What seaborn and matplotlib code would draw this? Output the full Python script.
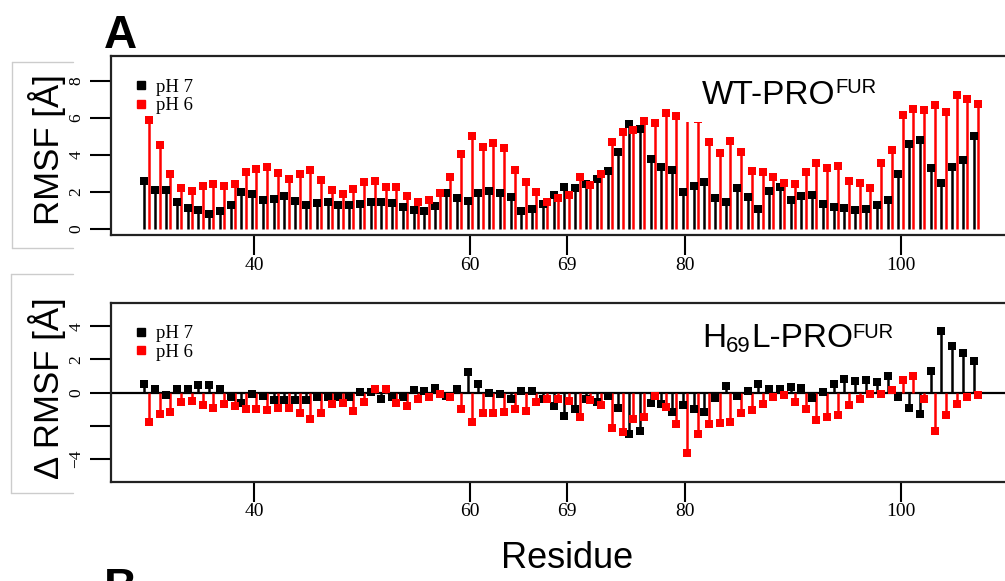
import numpy as np
import pandas as pd
import matplotlib
matplotlib.use("Agg")
import matplotlib.pyplot as plt
from matplotlib.lines import Line2D
from matplotlib.patches import Rectangle
import seaborn as sns

# ---------------- data ----------------
residues = list(range(30, 108))

wt_ph7 = [2.58, 2.09, 2.09, 1.43, 1.10, 0.99, 0.78, 0.96, 1.26, 2.00,
          1.86, 1.53, 1.60, 1.78, 1.48, 1.26, 1.37, 1.43, 1.28, 1.28,
          1.32, 1.43, 1.43, 1.40, 1.17, 1.03, 0.97, 1.23, 1.93, 1.66,
          1.50, 1.91, 2.04, 1.91, 1.71, 0.94, 1.05, 1.32, 1.80, 2.25,
          2.18, 2.43, 2.70, 3.14, 4.13, 5.66, 5.41, 3.75, 3.32, 3.17,
          1.98, 2.31, 2.51, 1.66, 1.46, 2.18, 1.71, 1.06, 2.02, 2.24,
          1.57, 1.78, 1.84, 1.32, 1.16, 1.12, 1.03, 1.05, 1.26, 1.53,
          2.94, 4.60, 4.81, 3.26, 2.47, 3.35, 3.70, 5.03]

wt_ph6 = [5.86, 4.51, 2.94, 2.22, 2.06, 2.31, 2.40, 2.31, 2.40, 3.08,
          3.21, 3.35, 3.03, 2.69, 2.96, 3.17, 2.63, 2.08, 1.86, 2.15,
          2.54, 2.56, 2.25, 2.24, 1.77, 1.46, 1.55, 1.95, 2.81, 4.02,
          5.01, 4.40, 4.65, 4.35, 3.19, 2.52, 1.98, 1.43, 1.68, 1.80,
          2.81, 2.38, 2.94, 4.69, 5.23, 5.34, 5.82, 5.71, 6.27, 6.08,
          6.10, 5.95, 4.67, 4.11, 4.74, 4.16, 3.12, 3.06, 2.78, 2.45,
          2.40, 3.06, 3.57, 3.30, 3.41, 2.59, 2.45, 2.20, 3.54, 4.24,
          6.13, 6.47, 6.43, 6.67, 6.29, 7.24, 7.01, 6.74]

h69l_ph7 = [0.54, 0.24, -0.16, 0.24, 0.24, 0.45, 0.45, 0.24, -0.24, -0.64,
            -0.08, -0.20, -0.44, -0.44, -0.44, -0.44, -0.28, -0.24, -0.24, -0.24,
            0.06, 0.02, -0.36, -0.24, -0.28, 0.14, 0.13, 0.26, -0.20, 0.22,
            1.23, 0.50, -0.02, -0.10, -0.36, 0.12, 0.12, -0.38, -0.78, -1.40,
            -0.98, -0.40, -0.58, -0.20, -0.94, -2.49, -2.31, -0.60, -0.68, -1.16,
            -0.74, -1.00, -1.16, -0.34, 0.42, -0.18, 0.12, 0.50, 0.22, 0.22,
            0.34, 0.30, -0.30, 0.06, 0.54, 0.82, 0.72, 0.74, 0.62, 0.99,
            -0.26, -0.90, -1.28, 1.29, 3.72, 2.81, 2.41, 1.91]

h69l_ph6 = [-1.77, -1.30, -1.18, -0.56, -0.50, -0.76, -0.90, -0.68, -0.80, -1.00,
            -0.96, -1.04, -0.90, -0.90, -1.24, -1.60, -1.20, -0.70, -0.64, -1.10,
            -0.58, 0.24, 0.22, -0.62, -0.80, -0.36, -0.24, -0.08, -0.24, -1.00,
            -1.78, -1.20, -1.22, -1.14, -0.98, -1.10, -0.56, -0.36, -0.36, -0.52,
            -1.44, -0.44, -0.72, -2.13, -2.37, -1.60, -1.46, -0.20, -0.88, -1.89,
            -3.63, -2.49, -1.91, -1.82, -1.77, -1.20, -1.02, -0.70, -0.24, -0.16,
            -0.58, -0.96, -1.66, -1.44, -1.36, -0.74, -0.38, -0.10, -0.10, 0.18,
            0.78, 0.99, -0.38, -2.29, -1.36, -0.68, -0.28, -0.12]

series_names = ["pH 7", "pH 6"]
xtick_values = [40, 60, 69, 80, 100]
top_yticks = [0, 2, 4, 6, 8]
bot_yticks = [-4, -2, 0, 2, 4]
bot_yticklabels = ["\u22124", "", "0", "2", "4"]

# ---------------- style ----------------
sns.set_style("ticks")
plt.rcParams["font.family"] = ["Liberation Sans", "DejaVu Sans"]
plt.rcParams["text.color"] = "black"
plt.rcParams["xtick.color"] = "black"
plt.rcParams["ytick.color"] = "black"
plt.rcParams["axes.labelcolor"] = "black"

W, H = 1005, 581
fig = plt.figure(figsize=(W / 100, H / 100), dpi=100)

def frac(x, y):
    return x / W, 1 - y / H

colors = {"pH 7": "black", "pH 6": "red"}
offsets = {"pH 7": -0.2, "pH 6": 0.2}

def make_df(v7, v6):
    df = pd.DataFrame({
        "residue": residues * 2,
        "value": v7 + v6,
        "series": ["pH 7"] * len(v7) + ["pH 6"] * len(v6),
    })
    df["pos"] = df["residue"] + df["series"].map(offsets)
    return df

ax_left, ax_right = 111, 1007
ppr = 10.77
xmin = 40 - (254.3 - ax_left) / ppr
xmax = xmin + (ax_right - ax_left) / ppr

def make_axes(top_px, bot_px):
    l, b = frac(ax_left, bot_px)
    return fig.add_axes([l, b, (ax_right - ax_left) / W, (bot_px - top_px) / H])

ax1 = make_axes(56, 235)
ax2 = make_axes(302.7, 481.7)

panels = [
    (ax1, make_df(wt_ph7, wt_ph6), (-0.34, 9.335), top_yticks, [str(v) for v in top_yticks], False),
    (ax2, make_df(h69l_ph7, h69l_ph6), (-5.36, 5.42), bot_yticks, bot_yticklabels, True),
]

for ax, df, ylim, yt, ytl, zero in panels:
    if zero:
        ax.axhline(0, color="black", lw=1.6, zorder=1.5)
    for s in series_names:
        sub = df[df["series"] == s]
        ax.vlines(sub["pos"], 0, sub["value"], colors=colors[s], lw=1.8, zorder=2)
        sns.scatterplot(data=sub, x="pos", y="value", color=colors[s], marker="s",
                        s=28, linewidth=0, ax=ax, zorder=3, legend=False)
    ax.set_xlim(xmin, xmax)
    ax.set_ylim(*ylim)
    ax.set_xlabel("")
    ax.set_ylabel("")
    ax.set_xticks(xtick_values)
    ax.set_xticklabels([str(v) for v in xtick_values], family="Liberation Serif", fontsize=14)
    ax.set_yticks(yt)
    ax.set_yticklabels(ytl, family="Liberation Serif", fontsize=12.5, rotation=90, va="center")
    ax.tick_params(axis="x", direction="out", length=14.5, width=1.5, pad=1, color="black")
    ax.tick_params(axis="y", direction="out", length=15, width=1.5, pad=4, color="black")
    for sp in ax.spines.values():
        sp.set_visible(True)
        sp.set_linewidth(1.6)
        sp.set_color("#222222")
    handles = [Line2D([], [], marker="s", color=colors[s], linestyle="none", markersize=5.5)
               for s in series_names]
    ax.legend(handles, series_names, loc="upper left", bbox_to_anchor=(0.027, 0.875),
              frameon=False, prop={"family": "Liberation Serif", "size": 13.5},
              handlelength=0.6, handletextpad=0.5, labelspacing=0.08,
              borderpad=0, borderaxespad=0)

# white background of the WT label (hides tops of two stems)
ax1.add_patch(Rectangle((79.8, 5.77), 18.7, 3.2, facecolor="white", edgecolor="none", zorder=4))

# ---------------- texts ----------------
renderer = fig.canvas.get_renderer()

def rich_text(x_px, y_px, parts):
    x = x_px
    for s, size, dy in parts:
        t = fig.text(*frac(x, y_px + dy), s, fontsize=size, family="Liberation Sans",
                     ha="left", va="baseline", color="black")
        bb = t.get_window_extent(renderer)
        x = bb.x1

rich_text(702, 104, [("WT-PRO", 24, 0), ("FUR", 14.5, -10.7)])
rich_text(702, 346.7, [("H", 24, 0), ("69", 16, 5), ("L-PRO", 24, 0), ("FUR", 14.5, -8.5)])

fig.text(*frac(47, 150), "RMSF [\u00c5]", rotation=90, fontsize=25, ha="center", va="center")
fig.text(*frac(47, 388), "\u0394 RMSF [\u00c5]", rotation=90, fontsize=25, ha="center", va="center")
fig.text(*frac(567, 558), "Residue", fontsize=26, ha="center", va="center")
fig.text(*frac(104, 48), "A", fontsize=33, fontweight="bold", ha="left", va="baseline")
fig.text(*frac(104, 601), "B", fontsize=33, fontweight="bold", ha="left", va="baseline")

# light gray frames around the y labels
gray = "#cccccc"
for (x0, y0, y1) in [(12, 62, 248), (11, 274, 493)]:
    fig.add_artist(Line2D([x0 / W, x0 / W], [1 - y0 / H, 1 - y1 / H], color=gray, lw=1))
    fig.add_artist(Line2D([x0 / W, 73 / W], [1 - y0 / H, 1 - y0 / H], color=gray, lw=1))
    fig.add_artist(Line2D([x0 / W, 73 / W], [1 - y1 / H, 1 - y1 / H], color=gray, lw=1))

fig.savefig("out.png", dpi=100)
